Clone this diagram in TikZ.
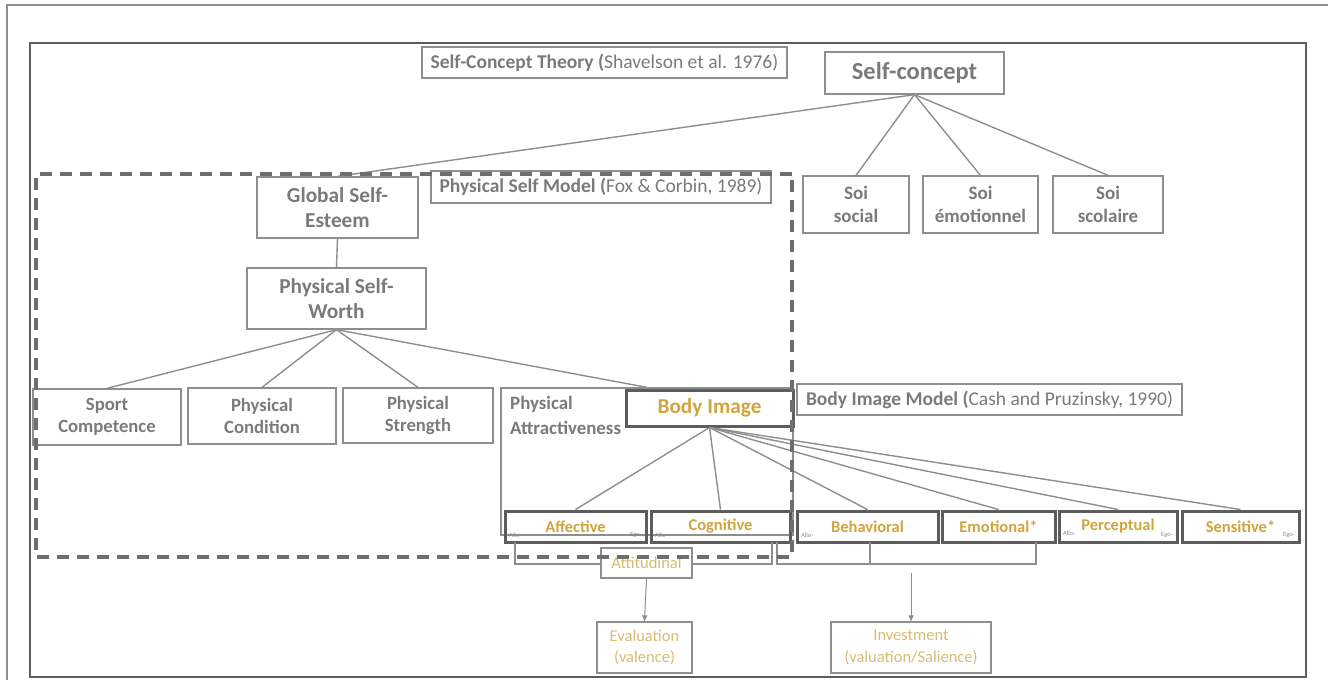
\documentclass[tikz,border=0pt]{standalone}
\usepackage{fontspec}
\setmainfont{Carlito}
\usetikzlibrary{arrows.meta}
\definecolor{tgray}{HTML}{7A7A7A}
\definecolor{lgray}{HTML}{8E8E8E}
\definecolor{dgray}{HTML}{5C5C5C}
\definecolor{dashgray}{HTML}{6E6E6E}
\definecolor{gold}{HTML}{D0A43E}
\definecolor{lgold}{HTML}{D9BA72}
\newcommand{\fs}[1]{\fontsize{#1}{#1}\selectfont}
\begin{document}
\begin{tikzpicture}[x=1pt,y=-1pt,
  box/.style={draw=lgray, line width=1.3pt, align=center, inner sep=0pt, text=tgray, font=\bfseries\fs{19}},
  thick box/.style={draw=dgray, line width=3pt, align=center, inner sep=0pt, text=gold, font=\bfseries\fs{16.5}},
  label box/.style={draw=lgray, line width=1.3pt, inner sep=0pt, text=tgray, font=\fs{19.5}},
  gold box/.style={draw=lgray, line width=1.3pt, align=center, inner sep=0pt, text=lgold, font=\fs{16.5}},
  tiny/.style={inner sep=0pt, text=lgray, font=\fs{6.5}},
  conn/.style={draw=lgray, line width=1.4pt},
  arr/.style={draw=lgray, line width=1pt, -{Triangle[length=6pt,width=5pt]}},
  dashframe/.style={draw=dashgray, line width=3.5pt, dash pattern=on 12pt off 8pt}
]
\useasboundingbox (0,0) rectangle (1328,680);
% frames
\draw[lgray, line width=1.3pt] (7,700) -- (7,5) -- (1340,5);
\draw[dgray, line width=2pt] (30,43) rectangle (1306,677);

% top level
\node[label box, minimum width=365pt, minimum height=31pt] (sct) at (604.5,62.5)
  {{\bfseries Self-Concept Theory (}Shavelson et al. 1976)};
\node[box, font=\bfseries\fs{24.5}, minimum width=179pt, minimum height=42pt] (sc) at (914.5,73) {Self-concept};
\node[box, minimum width=106pt, minimum height=57pt, font=\bfseries\fs{19}] (soi1) at (856,204.5) {Soi\\[4pt]social};
\node[box, minimum width=115pt, minimum height=57pt, font=\bfseries\fs{19}] (soi2) at (980.5,204.5) {Soi\\[4pt]émotionnel};
\node[box, minimum width=110pt, minimum height=57pt, font=\bfseries\fs{19}] (soi3) at (1108,204.5) {Soi\\[4pt]scolaire};

% physical self model
\node[box, minimum width=161pt, minimum height=61pt, font=\bfseries\fs{21.3}] (gse) at (337.5,207.5) {Global Self-\\[4pt]Esteem};
\node[label box, minimum width=340pt, minimum height=32pt] (psm) at (601,187)
  {{\bfseries Physical Self Model (}Fox \& Corbin, 1989)};
\node[box, minimum width=179pt, minimum height=61pt, font=\bfseries\fs{21.3}] (psw) at (336.5,298.5) {Physical Self-\\[4pt]Worth};
\node[box, minimum width=148pt, minimum height=56pt, font=\bfseries\fs{18.7}] (sport) at (107,417) {Sport\\[3pt]Competence};
\node[box, minimum width=148pt, minimum height=56pt, font=\bfseries\fs{18.7}] (cond) at (262,416) {Physical\\[3pt]Condition};
\node[box, minimum width=150pt, minimum height=55pt, font=\bfseries\fs{18.7}] (str) at (418,415.5) {Physical\\[3pt]Strength};
\node[box, minimum width=292pt, minimum height=147pt] (pa) at (647,461.5) {};
\node[anchor=north west, inner sep=0pt, align=left, text=tgray, font=\bfseries\fs{18.9}] (patext) at (510,396) {Physical\\[6pt]Attractiveness};

% body image model
\node[thick box, font=\bfseries\fs{21.3}, minimum width=167pt, minimum height=36pt] (bi) at (709.5,408) {Body Image};
\node[label box, minimum width=385pt, minimum height=31pt] (bim) at (989.5,399.5)
  {{\bfseries Body Image Model (}Cash and Pruzinsky, 1990)};
\node[thick box, minimum width=141pt, minimum height=31pt] (aff) at (575.5,526.5) {Affective};
\node[thick box, minimum width=139pt, minimum height=31pt] (cog) at (720.5,526.5) {Cognitive};
\node[thick box, minimum width=141pt, minimum height=31pt] (beh) at (867.5,526.5) {Behavioral};
\node[thick box, minimum width=113pt, minimum height=31pt] (emo) at (998.5,526.5) {Emotional*};
\node[thick box, minimum width=118pt, minimum height=31pt] (per) at (1118,526.5) {Perceptual};
\node[thick box, minimum width=117pt, minimum height=31pt] (sen) at (1240.5,526.5) {Sensitive*};
% allo / ego marks
\node[tiny, anchor=south west] (a1) at (509,538) {Allo-};
\node[tiny, anchor=south east] (e1) at (642,538) {Ego-};
\node[tiny, anchor=south west] (a2) at (655,538) {Allo-};
\node[tiny, anchor=south west] (a3) at (801,538) {Allo-};
\node[tiny, anchor=south west] (a4) at (1063,536) {Allo-};
\node[tiny, anchor=south east] (e4) at (1173,538) {Ego-};
\node[tiny, anchor=south east] (e5) at (1295,538) {Ego-};

% connectors
\draw[conn] (sc.south) -- (gse.north);
\draw[conn] (sc.south) -- (soi1.north);
\draw[conn] (sc.south) -- (soi2.north);
\draw[conn] (sc.south) -- (soi3.north);
\draw[conn] (gse.south) -- (psw.north);
\draw[conn] (psw.south) -- (sport.north);
\draw[conn] (psw.south) -- (cond.north);
\draw[conn] (psw.south) -- (str.north);
\draw[conn] (psw.south) -- (pa.north);
\foreach \t in {aff,cog,beh,emo,per,sen} \draw[conn] (bi.south) -- (\t.north);

% brackets
\coordinate (l1) at (515,542); \coordinate (l2) at (772,542);
\coordinate (r1) at (777,542); \coordinate (r2) at (1036,542); \coordinate (rm) at (870,542);
\draw[lgray, line width=1.3pt] (l1) -- (515,564) -- (772,564) -- (l2);
\draw[lgray, line width=1.3pt] (r1) -- (777,564) -- (1036,564) -- (r2);
\draw[lgray, line width=1.3pt] (rm) -- (870,564);
\node[gold box, fill=white, minimum width=91pt, minimum height=30pt] (att) at (646.5,563) {Attitudinal};
\node[gold box, minimum width=95pt, minimum height=51pt] (eval) at (644.5,647.5) {Evaluation\\[5pt](valence)};
\node[gold box, minimum width=160pt, minimum height=51pt] (inv) at (911,647.5) {Investment\\[5pt](valuation/Salience)};
\coordinate (invtop) at (911,573);
\draw[arr] (att.south) -- (eval.north);
\draw[arr] (invtop) -- (inv.north);

% dashed physical self model frame
\draw[dashframe] (792,174) -- (36,174) -- (36,557) -- (792,557) -- cycle;
\end{tikzpicture}
\end{document}
